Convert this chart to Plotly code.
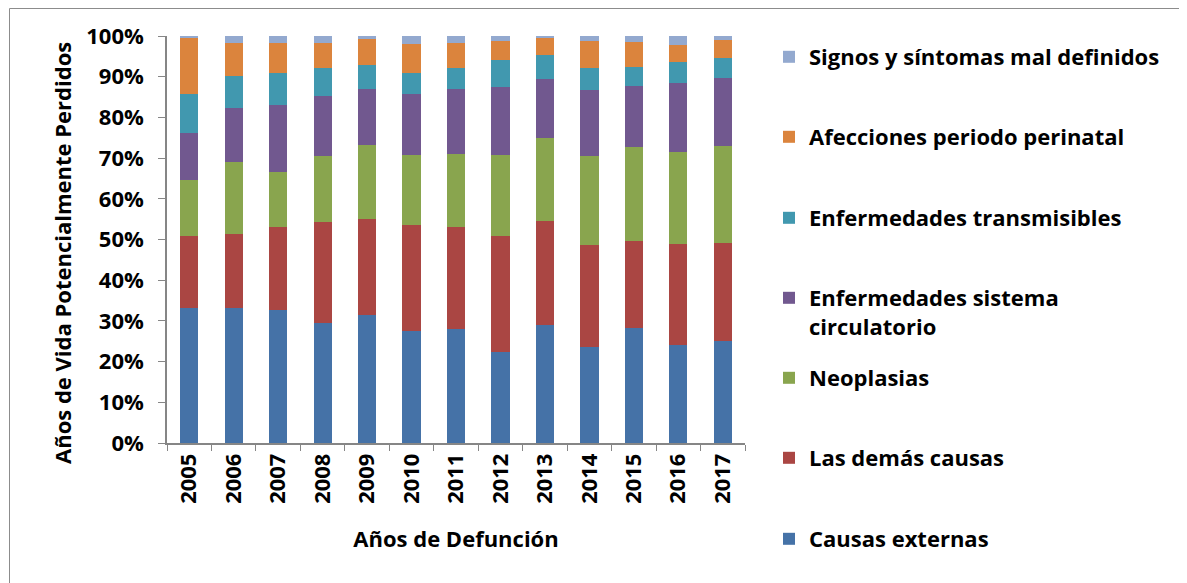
import plotly.graph_objects as go

years = ["2005", "2006", "2007", "2008", "2009", "2010", "2011", "2012", "2013", "2014", "2015", "2016", "2017"]

causas_externas = [33.2, 33.2, 32.7, 29.4, 31.4, 27.6, 27.9, 22.3, 29.1, 23.5, 28.2, 24.2, 25.1]
demas_causas = [17.7, 18.1, 20.3, 25.0, 23.7, 25.9, 25.2, 28.6, 25.5, 25.1, 21.5, 24.8, 24.1]
neoplasias = [13.7, 17.8, 13.7, 16.1, 18.1, 17.3, 17.8, 19.9, 20.3, 21.8, 23.0, 22.4, 23.7]
circulatorio = [11.6, 13.3, 16.4, 14.7, 13.7, 15.0, 16.0, 16.6, 14.6, 16.4, 15.1, 17.0, 16.9]
transmisibles = [9.6, 7.8, 7.9, 6.9, 6.0, 5.2, 5.2, 6.8, 5.8, 5.4, 4.5, 5.3, 4.9]
perinatal = [13.9, 8.2, 7.2, 6.3, 6.4, 7.1, 6.1, 4.6, 4.3, 6.6, 6.3, 4.0, 4.2]
signos = [0.3, 1.6, 1.8, 1.6, 0.7, 1.9, 1.8, 1.2, 0.4, 1.2, 1.4, 2.3, 1.1]

y_tickvals = [0, 10, 20, 30, 40, 50, 60, 70, 80, 90, 100]
y_ticktext = [f"{v}%" for v in y_tickvals]

series = [
    ("Causas externas", causas_externas, "#4572A7"),
    ("Las demás causas", demas_causas, "#AA4643"),
    ("Neoplasias", neoplasias, "#89A54E"),
    ("Enfermedades sistema<br>circulatorio", circulatorio, "#71588F"),
    ("Enfermedades transmisibles", transmisibles, "#4198AF"),
    ("Afecciones periodo perinatal", perinatal, "#DB843D"),
    ("Signos y síntomas mal definidos", signos, "#93A9CF"),
]

FONT = "Open Sans"
FS = 22
OFF = 8  # page body margin
W, H = 1187 - OFF, 583 - OFF
# target page-pixel geometry of the plot area
PX0, PX1, PY0, PY1 = 167, 745, 36, 443
L, T = PX0 - OFF, PY0 - OFF
R, B = W - (PX1 - OFF), H - (PY1 - OFF)
pw = W - L - R
ph = H - T - B


def xp(px):
    return (px - PX0) / pw


def yp(py):
    return (PY1 - py) / ph


# legend item centre y positions (page pixels)
leg_y = [539, 458, 378, 297, 218, 137, 57]

fig = go.Figure()
layout_legends = {}
for i, (name, vals, col) in enumerate(series):
    lname = "legend" if i == 0 else f"legend{i+1}"
    fig.add_trace(go.Bar(
        x=years, y=vals, name=name, marker=dict(color=col, line=dict(width=0)),
        legend=lname,
    ))
    two_line = "<br>" in name
    py = leg_y[i]
    layout_legends[lname] = dict(
        x=xp(769),
        xanchor="left",
        y=yp(py - 20) if two_line else yp(py),
        yanchor="top" if two_line else "middle",
        valign="top" if two_line else "middle",
        font=dict(family=FONT, size=FS, color="black", weight="bold"),
        bgcolor="rgba(0,0,0,0)",
        borderwidth=0,
        itemclick=False,
    )

fig.update_layout(
    barmode="stack",
    bargap=0.59,
    width=W, height=H,
    margin=dict(l=L, r=R, t=T, b=B, autoexpand=False),
    paper_bgcolor="white",
    plot_bgcolor="white",
    font=dict(family=FONT, color="black"),
    showlegend=True,
    **layout_legends,
)

fig.update_xaxes(
    type="category",
    tickangle=-90,
    tickson="boundaries",
    ticks="outside", ticklen=6, tickcolor="#868686", tickwidth=1,
    showline=True, linecolor="#868686", linewidth=1.5,
    showgrid=False,
    tickfont=dict(family=FONT, size=FS, color="black", weight="bold"),
    title=dict(text="Años de Defunción", font=dict(family=FONT, size=FS, color="black", weight="bold"), standoff=29),
)
fig.update_yaxes(
    range=[0, 100],
    tickvals=y_tickvals,
    ticktext=y_ticktext,
    ticks="outside", ticklen=7, tickcolor="#868686", tickwidth=1,
    showline=True, linecolor="#868686", linewidth=1.5,
    showgrid=False, zeroline=False,
    tickfont=dict(family=FONT, size=FS, color="black", weight="bold"),
    ticklabelstandoff=10,
)

# y-axis title, placed where the reference has it
fig.add_annotation(
    text="Años de Vida Potencialmente Perdidos",
    xref="paper", yref="paper", x=xp(62), y=yp(253),
    xanchor="center", yanchor="middle", textangle=-90, showarrow=False,
    font=dict(family=FONT, size=FS, color="black", weight="bold"),
)

# outer chart frame (top edge sits at the top of the figure area)
fig.add_shape(
    type="rect", xref="paper", yref="paper",
    x0=xp(9.5), x1=xp(1185.5),
    y0=yp(600), y1=yp(8.5),
    line=dict(color="#8c8c8c", width=1), fillcolor="rgba(0,0,0,0)", layer="below",
)

fig.write_html("out.html")
